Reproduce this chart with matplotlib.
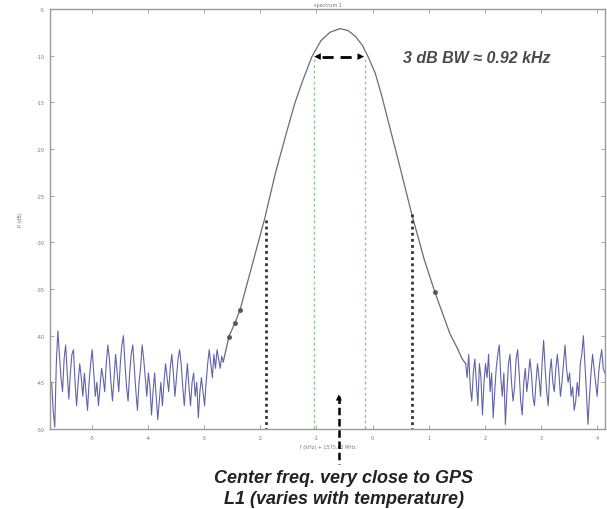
import numpy as np
import matplotlib.pyplot as plt

# frequency offset (kHz) and power (dB)
noise_left_db = [-45, -48, -49.8, -43, -39.5, -42, -44.5, -46, -42.5, -41,
                 -44, -46.8, -44, -42, -41.5, -45, -47.5, -45, -43, -44.5,
                 -46.5, -44, -46, -48, -45, -43, -41.5, -44, -46.5, -45,
                 -47.5, -45.5, -43.5, -44.5, -46, -43, -41, -42.5, -45, -47,
                 -44.5, -42, -44, -46, -43, -41, -40, -43, -45.5, -47,
                 -44, -42, -41, -43.5, -46, -48, -45, -43.5, -41, -42.5,
                 -44.5, -46.5, -44, -45.5, -48.5, -46, -44, -46.5, -49, -47,
                 -45, -47.5, -45, -43, -44.5, -46, -43.5, -42, -44, -46.5,
                 -44.5, -42.5, -41.5, -43, -45.5, -47.5, -45, -43, -45.5, -47.5,
                 -45, -44, -46.5, -45, -48.8, -46, -44.5, -46, -47.5, -45,
                 -43, -41.5, -43, -44.5, -42, -43.5, -41.5, -42.5, -43.5, -42.2,
                 -42.8]
noise_left_f = np.linspace(-5.72, -2.66, len(noise_left_db))

lobe_f = [-2.56, -2.45, -2.36, -2.18, -1.92, -1.74, -1.55, -1.38, -1.24,
          -1.08, -0.92, -0.76, -0.58, -0.44, -0.31, -0.18, -0.08, 0.05,
          0.16, 0.30, 0.45, 0.70, 0.92, 1.11, 1.26, 1.38, 1.50, 1.60]
lobe_db = [-40.1, -38.6, -37.2, -33.2, -27.4, -22.8, -18.6, -15.0, -12.6,
           -10.1, -8.4, -7.5, -7.1, -7.3, -7.9, -8.9, -10.1, -11.9,
           -14.2, -17.5, -21.0, -27.0, -31.8, -35.3, -37.8, -39.8, -41.2, -42.5]

noise_right_db = [-43, -44.5, -42, -45.5, -47, -44, -42.5, -45, -47.5, -43,
                  -44.5, -48.5, -45, -43, -44.5, -42, -46, -44, -48.8, -46,
                  -43.5, -42, -41, -44.5, -46.5, -44, -49.5, -46, -43, -42,
                  -45, -47, -45.5, -42.5, -41.5, -44, -47, -48.5, -45, -43.5,
                  -46, -44.5, -42.5, -44, -46.5, -47.5, -45, -43, -44.5, -46.5,
                  -43, -40.5, -43.5, -46, -47.5, -44, -42.5, -45, -46, -43.5,
                  -42, -44, -46.5, -45, -43, -41, -43.5, -45, -44, -46.5,
                  -45.5, -48, -47, -45, -46.5, -43, -42, -40, -43, -46,
                  -49.5, -46.5, -44, -42, -43.5, -45, -46.5, -44, -42.5, -41.5,
                  -43.5, -44]
noise_right_f = np.linspace(1.66, 4.14, len(noise_right_db))

bw_edges = [-1.05, -0.14]     # green 3 dB lines
wide_edges = [-1.89, 0.70]    # black dotted lines
wide_top = [-27.6, -27.0]
center_f = -0.60

xticks = np.arange(-5, 5)
yticks = np.arange(-50, 0, 5)

fig = plt.figure(figsize=(6.07, 5.10), dpi=100)
ax = fig.add_axes([50 / 607, 80 / 510, 555 / 607, 420 / 510])

ax.plot(noise_left_f, noise_left_db, color='#6262ac', lw=0.8)
ax.plot(noise_right_f, noise_right_db, color='#6262ac', lw=0.8)
ax.plot([noise_left_f[-1]] + lobe_f + [noise_right_f[0]],
        [noise_left_db[-1]] + lobe_db + [noise_right_db[0]],
        color='#6a6a7e', lw=0.9)
ax.plot(lobe_f[:3], lobe_db[:3], 'o', color='#555566', ms=2.5)
ax.plot(lobe_f[-5:-4], lobe_db[-5:-4], 'o', color='#555566', ms=2.5)

for f in bw_edges:
    ax.plot([f, f], [-10.4, -50], color='#88cc88', lw=1.0, ls=(0, (2, 2)))
for f, top in zip(wide_edges, wide_top):
    ax.plot([f, f], [top, -50], color='#333333', lw=2.0, ls=(0, (1, 1.2)))

# 3 dB bandwidth arrow
ax.plot([bw_edges[0] + 0.15, bw_edges[1] - 0.15], [-10.1, -10.1],
        color='black', lw=2, ls=(0, (4, 2.5)))
for tip, tail in [(bw_edges[0] - 0.04, bw_edges[0] + 0.25),
                  (bw_edges[1] + 0.04, bw_edges[1] - 0.25)]:
    ax.annotate('', xy=(tip, -10.1), xytext=(tail, -10.1),
                arrowprops=dict(arrowstyle='-|>', color='black', lw=0,
                                mutation_scale=12))
ax.text(0.54, -10.2, '3 dB BW \u2248 0.92 kHz', fontsize=11.5, style='italic',
        weight='bold', color='#4a4a4a', ha='left', va='center',
        family='Liberation Sans')

# center frequency arrow
ax.plot([center_f, center_f], [-46.5, -53.8], color='black', lw=1.8,
        ls=(0, (3, 1.5)), clip_on=False)
ax.annotate('', xy=(center_f, -46.0), xytext=(center_f, -47.2),
            arrowprops=dict(arrowstyle='-|>', color='black', lw=0,
                            mutation_scale=11))

ax.set_xlim(-5.749, 4.144)
ax.set_ylim(-50, -5)
ax.set_xticks(xticks)
ax.set_yticks(yticks)
ax.set_xticklabels([str(t) for t in xticks])
ax.set_yticklabels([str(t) for t in yticks])
ax.tick_params(direction='in', length=3, width=0.6, colors='#999999',
               labelsize=3.5, labelcolor='#777777', top=True, right=True, pad=4)
for s in ax.spines.values():
    s.set_color('#999999')
    s.set_linewidth(1.0)
ax.set_xlabel('f (kHz) + 1575.42 MHz', fontsize=3.5, color='#777777', labelpad=3)
ax.set_ylabel('P (dB)', fontsize=3.5, color='#777777', labelpad=10)
ax.set_title('spectrum 1', fontsize=3.5, color='#777777', pad=2)

fig.text(344 / 607, 1 - 479 / 510, 'Center freq. very close to GPS',
         ha='center', va='center', fontsize=13, weight='bold', style='italic',
         color='#222222', family='Liberation Sans')
fig.text(344 / 607, 1 - 500 / 510, 'L1 (varies with temperature)',
         ha='center', va='center', fontsize=13, weight='bold', style='italic',
         color='#222222', family='Liberation Sans')

plt.savefig('out.png', dpi=100)
